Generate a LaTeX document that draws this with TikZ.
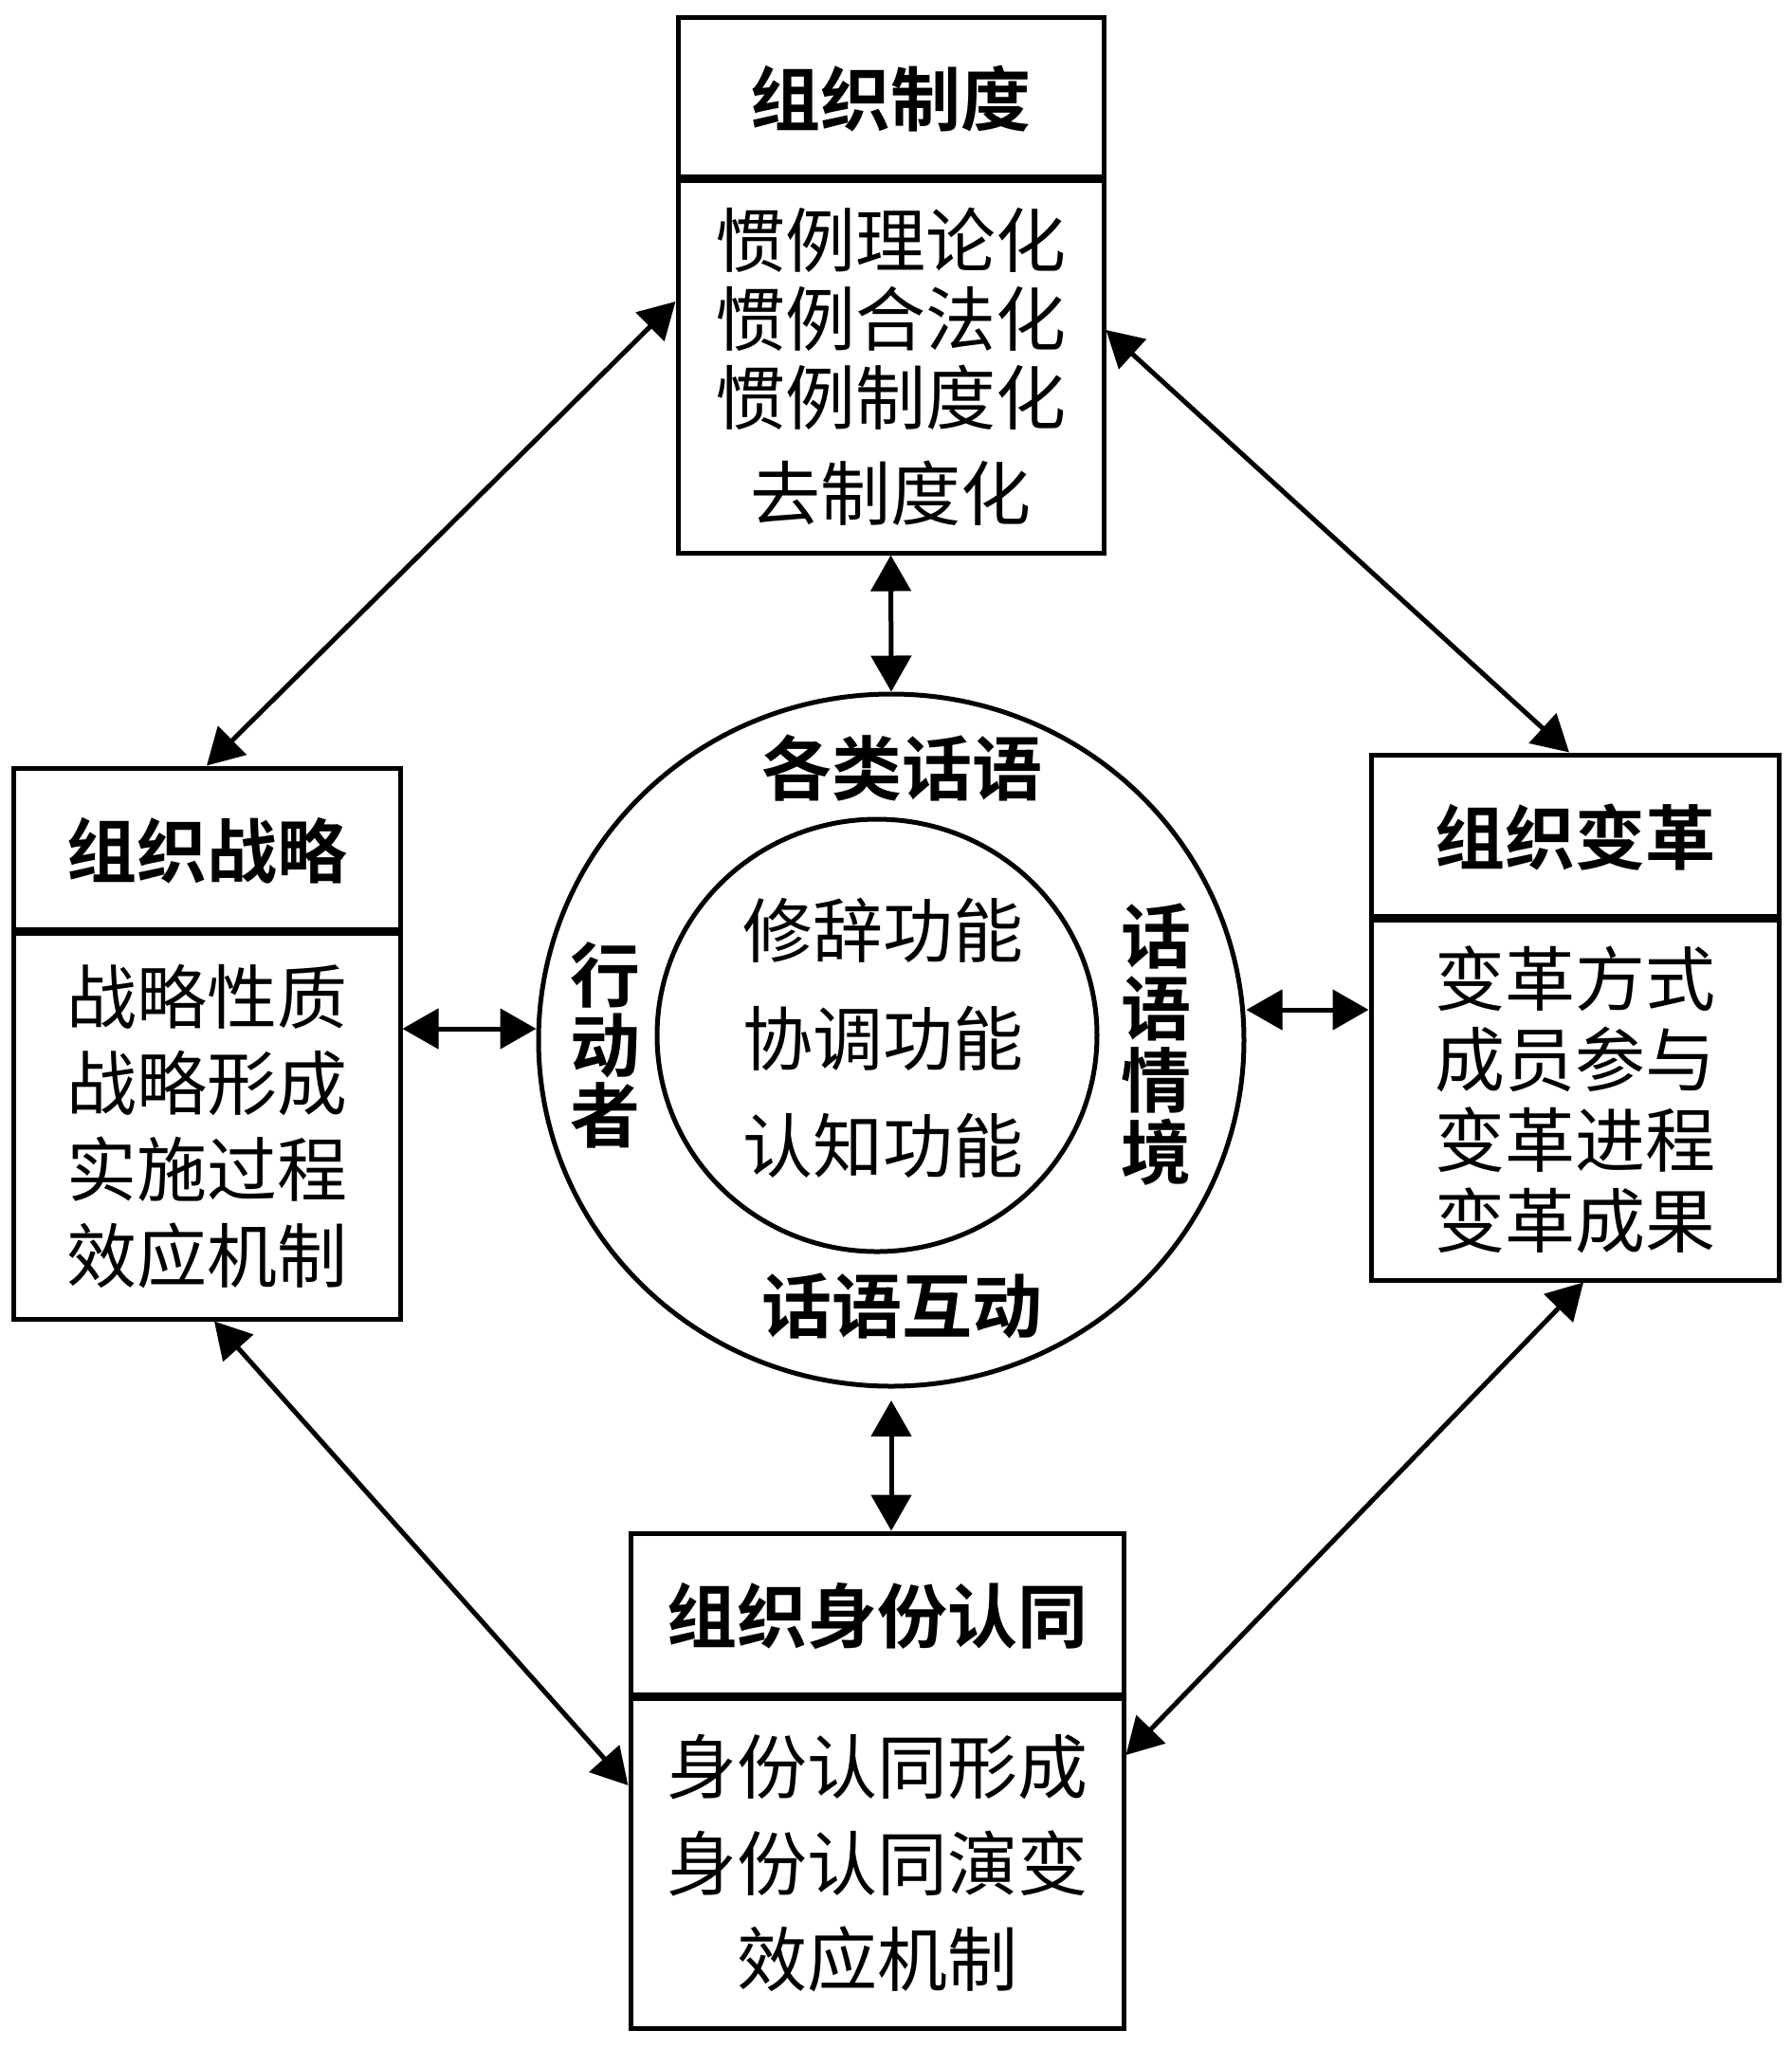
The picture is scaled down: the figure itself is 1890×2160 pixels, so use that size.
\documentclass[tikz,border=0pt]{standalone}
\usepackage{fontspec}
\setmainfont{Noto Sans CJK SC}[BoldFont={Noto Sans CJK SC Bold}]
\usetikzlibrary{arrows.meta,shapes.geometric}

\begin{document}
\begin{tikzpicture}[x=0.5pt,y=-0.5pt,
  box/.style={draw, line width=2.5pt, rectangle, inner sep=0pt, align=center},
  headtxt/.style={font=\fontsize{37pt}{41pt}\selectfont\bfseries},
  bodytxt/.style={font=\fontsize{37pt}{#1}\selectfont},
  lbl/.style={inner sep=0pt, align=center, font=\fontsize{37pt}{#1}\selectfont\bfseries},
  fn/.style={inner sep=0pt, font=\fontsize{37pt}{41pt}\selectfont},
  ring/.style={draw, ellipse, line width=2.5pt, inner sep=0pt},
  divider/.style={line width=4pt},
  dbl/.style={line width=2.5pt, {Triangle[length=19pt,width=21pt]}-{Triangle[length=19pt,width=21pt]}}
]
\useasboundingbox (0,0) rectangle (1890,2160);

% top box
\node[box, headtxt, minimum width=224.5pt, minimum height=86pt] (topH) at (939.5,104) {组织制度};
\node[box, bodytxt=41.5pt, minimum width=224.5pt, minimum height=196.5pt] (topB) at (939.5,386.5)
  {惯例理论化\\惯例合法化\\惯例制度化\\[9pt]去制度化};
\draw[divider] (topB.north west) -- (topB.north east);

% left box
\node[box, headtxt, minimum width=204pt, minimum height=87pt] (leftH) at (218,897) {组织战略};
\node[box, bodytxt=45.5pt, minimum width=204pt, minimum height=203.5pt] (leftB) at (218,1187.5)
  {战略性质\\战略形成\\实施过程\\效应机制};
\draw[divider] (leftB.north west) -- (leftB.north east);

% right box
\node[box, headtxt, minimum width=215pt, minimum height=87pt] (rightH) at (1661,883) {组织变革};
\node[box, bodytxt=42.5pt, minimum width=215pt, minimum height=190pt] (rightB) at (1661,1160)
  {变革方式\\成员参与\\变革进程\\变革成果};
\draw[divider] (rightB.north west) -- (rightB.north east);

% bottom box
\node[box, headtxt, minimum width=260pt, minimum height=87pt] (botH) at (925,1704) {组织身份认同};
\node[box, bodytxt=51pt, minimum width=260pt, minimum height=174pt] (botB) at (925,1965)
  {身份认同形成\\身份认同演变\\效应机制};
\draw[divider] (botB.north west) -- (botB.north east);

% circles
\node[ring, minimum width=372pt, minimum height=365pt] (outer) at (940,1097) {};
\node[ring, minimum width=232pt, minimum height=228pt] (inner) at (925,1092) {};

% ring labels
\node[lbl=41pt] (gl) at (951,810) {各类话语};
\node[lbl=41pt] (hd) at (951,1378) {话语互动};
\node[lbl=37pt] (xd) at (638,1102) {行\\动\\者};
\node[lbl=38pt] (hy) at (1219,1102) {话\\语\\情\\境};

% inner labels
\node[fn] (f1) at (931,981) {修辞功能};
\node[fn] (f2) at (931,1095) {协调功能};
\node[fn] (f3) at (931,1208) {认知功能};

% helper coordinates
\coordinate (yL) at (0,1085);
\coordinate (yR) at (0,1065);
\coordinate (yA) at (0,318);
\coordinate (xA) at (218,0);
\coordinate (yB) at (0,348);
\coordinate (xB) at (1655,0);
\coordinate (xC) at (226,0);
\coordinate (yC) at (0,1883);
\coordinate (xD) at (1670,0);
\coordinate (yD) at (0,1851);
\coordinate (gapB) at (0,1477);

% connectors
\draw[dbl] (topB.south) -- (outer.north);
\draw[dbl] (outer.south |- gapB) -- (outer.south |- botH.north);
\draw[dbl] (leftB.east |- yL) -- (outer.west |- yL);
\draw[dbl] (outer.east |- yR) -- (rightB.west |- yR);
\draw[dbl] (topB.west |- yA) -- (leftH.north -| xA);
\draw[dbl] (topB.east |- yB) -- (rightH.north -| xB);
\draw[dbl] (leftB.south -| xC) -- (botB.west |- yC);
\draw[dbl] (rightB.south -| xD) -- (botB.east |- yD);
\end{tikzpicture}
\end{document}
